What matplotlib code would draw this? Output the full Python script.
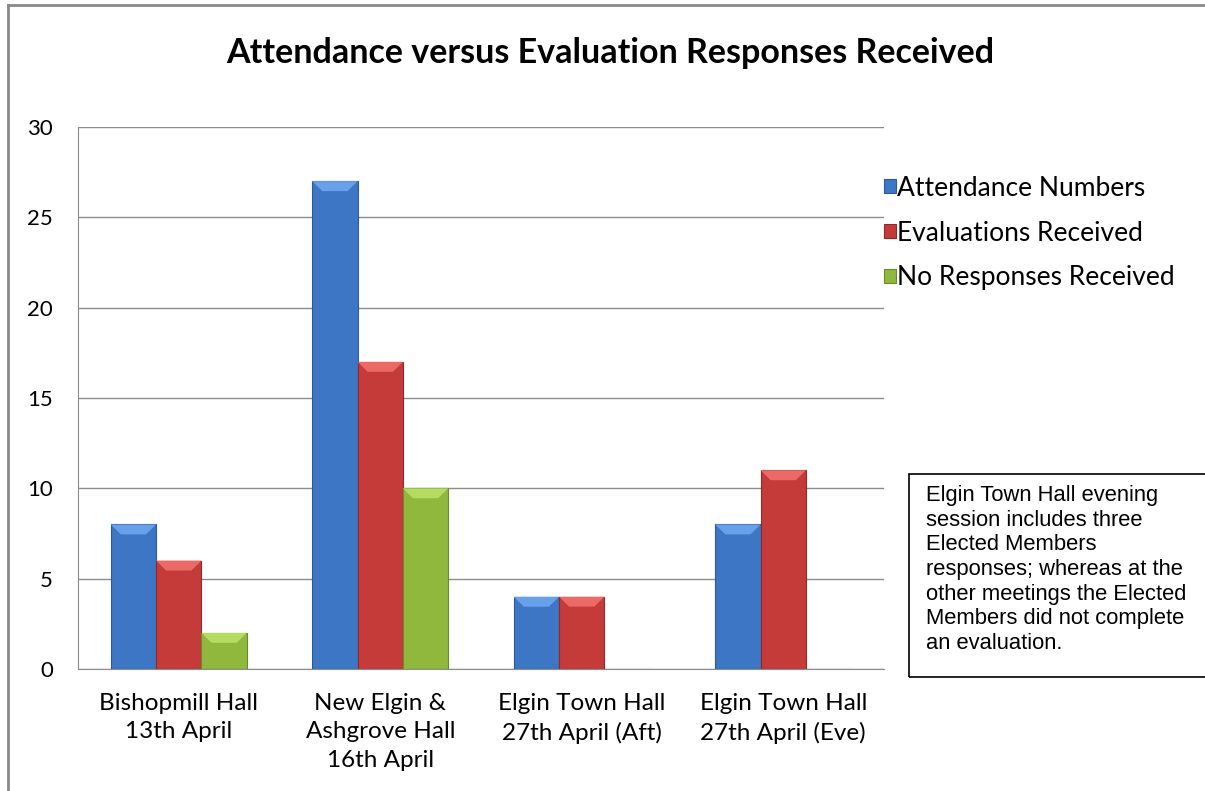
import matplotlib.pyplot as plt
import matplotlib.patches as mpatches
from matplotlib.lines import Line2D
import numpy as np

# data
venues = ["Bishopmill Hall\n13th April", "New Elgin &\nAshgrove Hall\n16th April",
          "Elgin Town Hall\n27th April (Aft)", "Elgin Town Hall\n27th April (Eve)"]
attendance = [8, 27, 4, 8]
evaluations = [6, 17, 4, 11]
no_responses = [2, 10, 0, 0]
series_names = ["Attendance Numbers", "Evaluations Received", "No Responses Received"]
colors = ["#3c76c4", "#c53b39", "#8fb83c"]
tops = ["#68a0ea", "#ec6a66", "#b4dc62"]
edges = ["#2c5a96", "#8f2a28", "#6b8a2a"]

W, H = 1205, 791
fig = plt.figure(figsize=(W / 100, H / 100), dpi=100)
ax = fig.add_axes([78 / W, 1 - 669 / H, 806 / W, 542 / H])

font = "Lato"
x = np.arange(len(venues))
width = 0.225
for i, vals in enumerate([attendance, evaluations, no_responses]):
    bars = ax.bar(x + (i - 1) * width, vals, width, color=colors[i], edgecolor=edges[i],
                  linewidth=0.8, label=series_names[i], zorder=3)
    # bevel on top of each bar
    for b in bars:
        h = b.get_height()
        if h <= 0:
            continue
        x0, x1 = b.get_x(), b.get_x() + b.get_width()
        d, bh = 0.05, 0.55
        ax.add_patch(mpatches.Polygon([(x0, h), (x1, h), (x1 - d, h - bh), (x0 + d, h - bh)],
                                      closed=True, facecolor=tops[i], edgecolor="none",
                                      zorder=4))

ax.set_xlim(-0.5, 3.5)
ax.set_ylim(0, 30)
ax.set_yticks(range(0, 31, 5))
ax.set_xticks(x)
ax.set_xticklabels(venues, fontsize=17.5, family=font, linespacing=1.45)
for t in ax.get_yticklabels():
    t.set_fontsize(16)
    t.set_family(font)
ax.tick_params(axis="y", length=0, pad=18, colors="black")
ax.tick_params(axis="x", length=0, pad=17)
ax.yaxis.grid(True, color="#8c8c8c", linewidth=1, zorder=0)
for s in ["top", "right"]:
    ax.spines[s].set_visible(False)
ax.spines["left"].set_color("#8c8c8c")
ax.spines["bottom"].set_color("#8c8c8c")

fig.text(610 / W, 1 - 53 / H, "Attendance versus Evaluation Responses Received",
         ha="center", va="center", fontsize=24.5, fontweight="bold", family=font)

leg = ax.legend(loc="upper left", bbox_to_anchor=(860 / W, 1 - 152 / H),
                bbox_transform=fig.transFigure, frameon=False,
                prop={"family": font, "size": 19}, handlelength=0.45, handleheight=0.45,
                handletextpad=0.05, labelspacing=0.75)

# annotation box
fig.patches.append(mpatches.Rectangle((909 / W, 1 - 677 / H), 310 / W, 203 / H,
                                      transform=fig.transFigure, fill=False,
                                      edgecolor="black", linewidth=1.2))
fig.text(926 / W, 1 - 485 / H,
         "Elgin Town Hall evening\nsession includes three\nElected Members\n"
         "responses; whereas at the\nother meetings the Elected\n"
         "Members did not complete\nan evaluation.",
         ha="left", va="top", fontsize=15.8, family="Liberation Sans", linespacing=1.23)

# outer chart border
fig.lines.append(Line2D([8 / W, 8 / W], [0, 1 - 5 / H], transform=fig.transFigure,
                        color="#8a8a8a", linewidth=2))
fig.lines.append(Line2D([8 / W, 1], [1 - 5 / H, 1 - 5 / H], transform=fig.transFigure,
                        color="#8a8a8a", linewidth=2))

fig.savefig("out.png", dpi=100)
